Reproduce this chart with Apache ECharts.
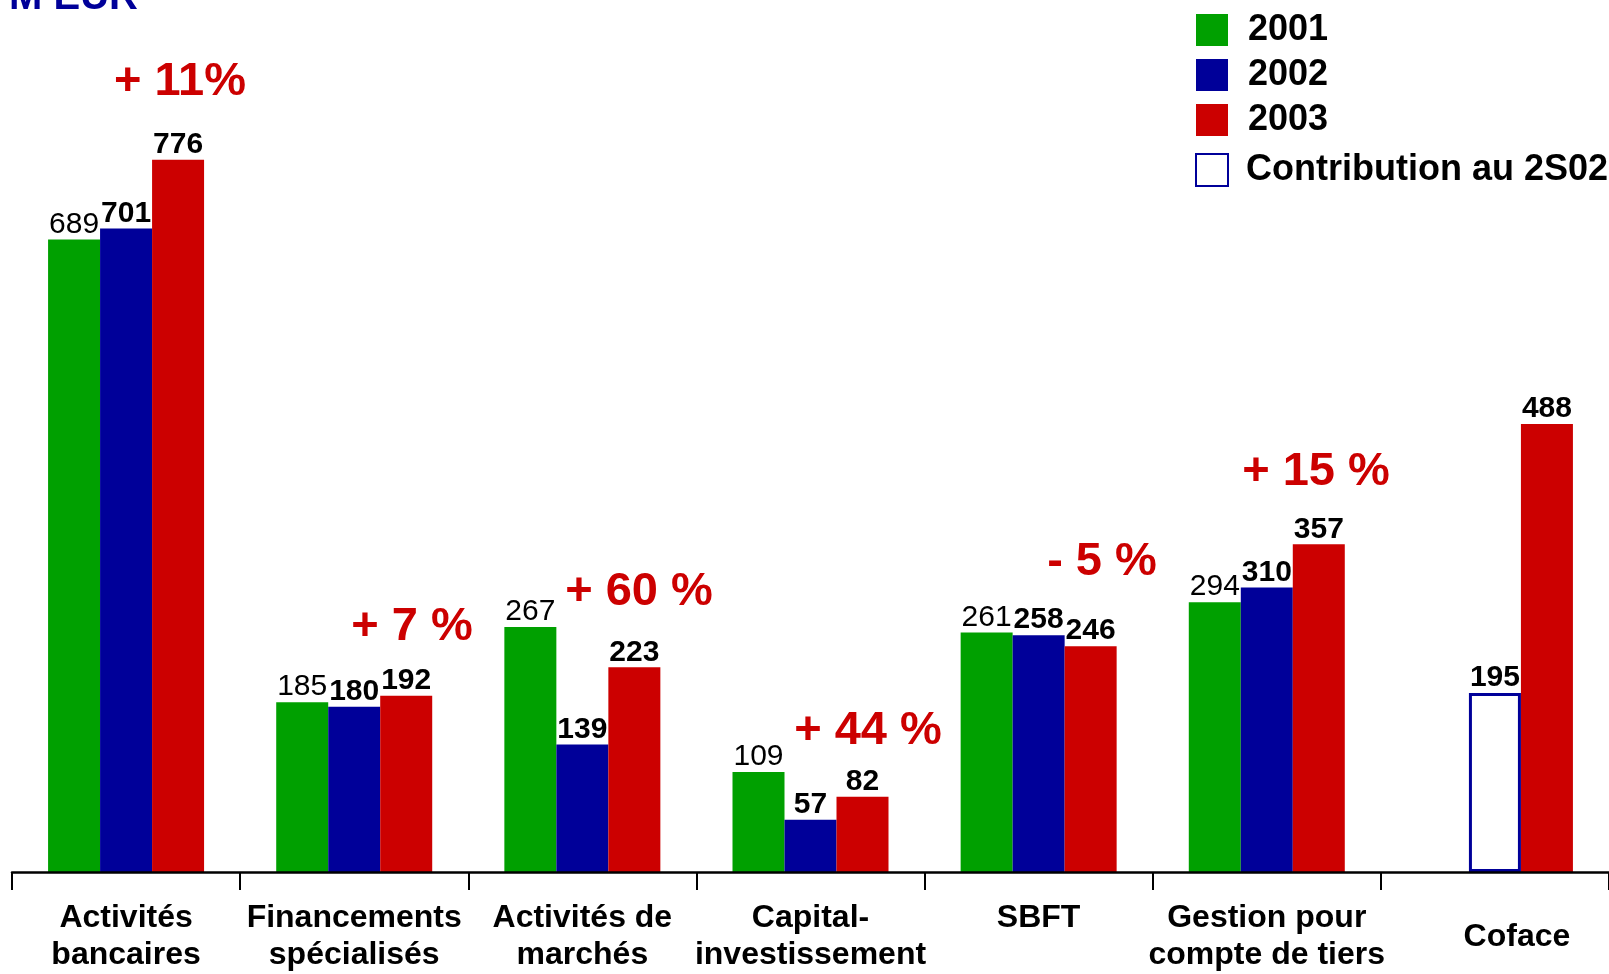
<!DOCTYPE html>
<html>
<head>
<meta charset="utf-8">
<script src="https://cdn.jsdelivr.net/npm/echarts@6/dist/echarts.min.js"></script>
<style>
html,body{margin:0;padding:0;background:#fff;}
#chart{width:1609px;height:974px;}
</style>
</head>
<body>
<div id="chart"></div>
<script>
const categories = ['Activités\nbancaires','Financements\nspécialisés','Activités de\nmarchés','Capital-\ninvestissement','SBFT','Gestion pour\ncompte de tiers','Coface'];
const v2001 = [689,185,267,109,261,294,'-'];
const v2002 = [701,180,139,57,258,310,'-'];
const v2003 = [776,192,223,82,246,357,488];
const contribution = ['-','-','-','-','-','-',195];
const seriesNames = ['2001','2002','2003','Contribution au 2S02'];
const growthLabels = ['+ 11%','+ 7 %','+ 60 %','+ 44 %','- 5 %','+ 15 %'];
const unitLabel = 'M EUR';

const FONT = '"Liberation Sans", Arial, sans-serif';
const GREEN = '#00A000', BLUE = '#000099', RED = '#CC0000';

const chart = echarts.init(document.getElementById('chart'));
const growthPos = [[180,82],[412,627],[639,592],[868,731],[1102,562],[1316,472]];

const labelNormal = {show:true, position:'top', distance:0, color:'#000', fontFamily:FONT, fontSize:30, fontWeight:'normal'};
const labelBold = {show:true, position:'top', distance:0, color:'#000', fontFamily:FONT, fontSize:30, fontWeight:'bold'};

chart.setOption({
  animation:false,
  backgroundColor:'#fff',
  textStyle:{fontFamily:FONT},
  grid:{left:12, width:1602, top:0, height:874, containLabel:false},
  legend:{
    orient:'vertical', left:1190, top:7, itemWidth:32, itemHeight:32, itemGap:9,
    textStyle:{fontFamily:FONT, fontSize:36, fontWeight:'bold', color:'#000', lineHeight:36, padding:[0,0,0,15]},
    data:[
      {name:seriesNames[0], icon:'rect'},
      {name:seriesNames[1], icon:'rect'},
      {name:seriesNames[2], icon:'rect'},
      {name:seriesNames[3], icon:'rect', itemStyle:{color:'#fff', borderColor:BLUE, borderWidth:2},
        textStyle:{padding:[10,0,0,13]}}
    ]
  },
  xAxis:{
    type:'category', data:categories, z:5,
    axisLine:{show:true, lineStyle:{color:'#000', width:2.5}},
    axisTick:{show:true, length:18, alignWithLabel:false, lineStyle:{color:'#000', width:2}},
    axisLabel:{
      show:true, interval:0, margin:28, color:'#000', fontFamily:FONT, fontSize:32, fontWeight:'bold', lineHeight:37,
      formatter:function(v){ return v === 'Coface' ? '{c|' + v + '}' : v; },
      rich:{c:{fontFamily:FONT, fontSize:32, fontWeight:'bold', color:'#000', lineHeight:74, padding:[0,0,0,44]}}
    }
  },
  yAxis:{type:'value', min:0, max:950, show:false, splitLine:{show:false}},
  series:[
    {name:seriesNames[0], type:'bar', data:v2001, barWidth:52, barGap:'0%', itemStyle:{color:GREEN}, label:labelNormal},
    {name:seriesNames[1], type:'bar', stack:'b', data:v2002, barWidth:52, barGap:'0%', itemStyle:{color:BLUE}, label:labelBold},
    {name:seriesNames[2], type:'bar', data:v2003, barWidth:52, barGap:'0%', itemStyle:{color:RED}, label:labelBold},
    {name:seriesNames[3], type:'bar', stack:'b', data:contribution, barWidth:52, barGap:'0%',
      itemStyle:{color:'#fff', borderColor:BLUE, borderWidth:3}, label:labelBold}
  ],
  graphic:[
    {type:'text', x:138, y:-2, style:{text:unitLabel, fill:BLUE, font:'bold 40px ' + FONT, textAlign:'right', textVerticalAlign:'middle'}}
  ].concat(growthLabels.map(function(t,i){
    return {type:'text', x:growthPos[i][0], y:growthPos[i][1], z:10,
      style:{text:t, fill:RED, font:'bold 47px ' + FONT, textAlign:'center', textVerticalAlign:'middle'}};
  }))
});
</script>
</body>
</html>
